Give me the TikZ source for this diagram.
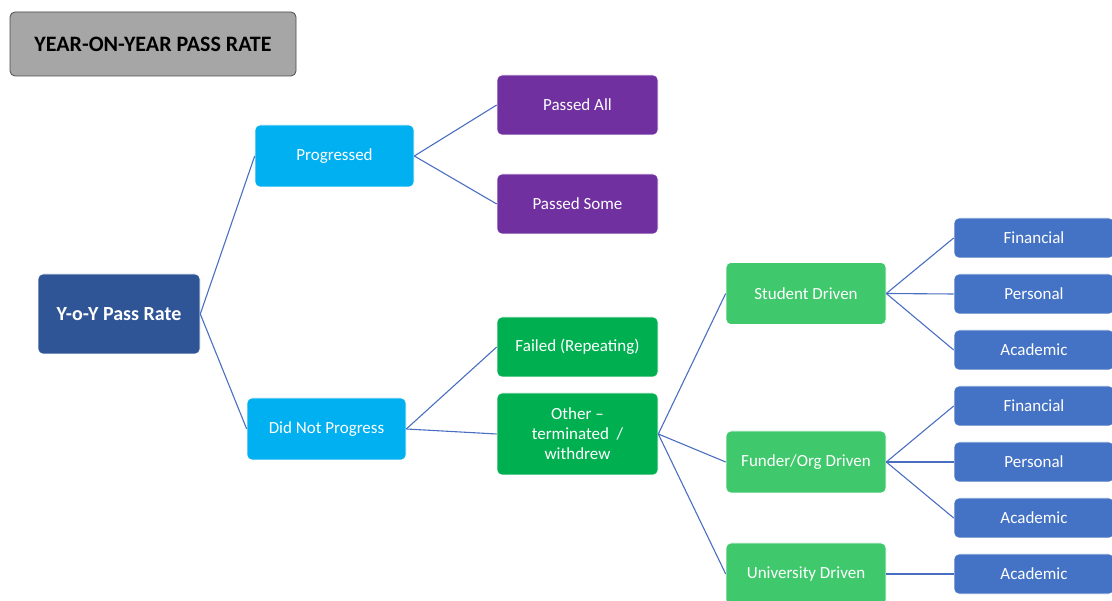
\documentclass[tikz,border=0pt]{standalone}
\usepackage{fontspec}
\setmainfont{Carlito}
\usepackage{xcolor}
\usetikzlibrary{positioning, arrows.meta}

\definecolor{titlegray}{HTML}{A6A6A6}
\definecolor{rootblue}{HTML}{2F5597}
\definecolor{skyblue}{HTML}{00B0F0}
\definecolor{passpurple}{HTML}{7030A0}
\definecolor{failgreen}{HTML}{00B050}
\definecolor{causegreen}{HTML}{3FC96C}
\definecolor{reasonblue}{HTML}{4472C4}
\definecolor{linkblue}{HTML}{4A6FC0}

\begin{document}
\begin{tikzpicture}[
    x=1pt, y=-1pt,
    every node/.style={rounded corners=5pt, align=center, text=white, draw=white, line width=0.6pt,
        font=\fontsize{17}{20}\selectfont, inner sep=2pt},
    titlebox/.style={fill=titlegray, draw=black!70, line width=0.8pt, text=black, minimum width=286pt,
        minimum height=64pt, font=\fontsize{22}{26}\selectfont\bfseries},
    rootbox/.style={fill=rootblue, minimum width=162pt, minimum height=80pt, font=\fontsize{20}{24}\selectfont\bfseries},
    splitbox/.style={fill=skyblue, minimum width=159pt, minimum height=62pt},
    passbox/.style={fill=passpurple, minimum width=161pt, minimum height=60pt},
    failbox/.style={fill=failgreen, minimum width=161pt, minimum height=60pt},
    causebox/.style={fill=causegreen, minimum width=160pt, minimum height=62pt},
    reasonbox/.style={fill=reasonblue, minimum width=160pt, minimum height=40pt},
    link/.style={draw=linkblue, line width=1.1pt}
]
\useasboundingbox (0,0) rectangle (1112,601);
\clip (0,0) rectangle (1112,601);

% title and root
\node[titlebox] (title) at (153,44) {YEAR-ON-YEAR PASS RATE};
\node[rootbox] (root) at (119,314) {Y-o-Y Pass Rate};

% first split
\node[splitbox] (prog) at (334.5,156) {Progressed};
\node[splitbox] (noprog) at (326.5,429) {Did Not Progress};

\node[passbox] (passall) at (577.5,105) {Passed All};
\node[passbox] (passsome) at (577.5,204) {Passed Some};
\node[failbox] (failed) at (577.5,347) {Failed (Repeating)};
\node[failbox, minimum height=82pt] (other) at (577.5,434) {Other --\\terminated\ \ /\\withdrew};

% who drove it
\node[causebox] (student) at (806,293.5) {Student Driven};
\node[causebox] (funder) at (806,462) {Funder/Org Driven};
\node[causebox] (univ) at (806,574) {University Driven};

% reasons
\node[reasonbox] (sfin) at (1034,238) {Financial};
\node[reasonbox] (spers) at (1034,294) {Personal};
\node[reasonbox] (sacad) at (1034,350) {Academic};
\node[reasonbox] (ffin) at (1034,406) {Financial};
\node[reasonbox] (fpers) at (1034,462) {Personal};
\node[reasonbox] (facad) at (1034,518) {Academic};
\node[reasonbox] (uacad) at (1034,574) {Academic};

% connectors
\foreach \a/\b in {root/prog, root/noprog, prog/passall, prog/passsome,
    noprog/failed, noprog/other, other/student, other/funder, other/univ,
    student/sfin, student/spers, student/sacad,
    funder/ffin, funder/fpers, funder/facad, univ/uacad}
    \draw[link] (\a.east) -- (\b.west);
\end{tikzpicture}
\end{document}
